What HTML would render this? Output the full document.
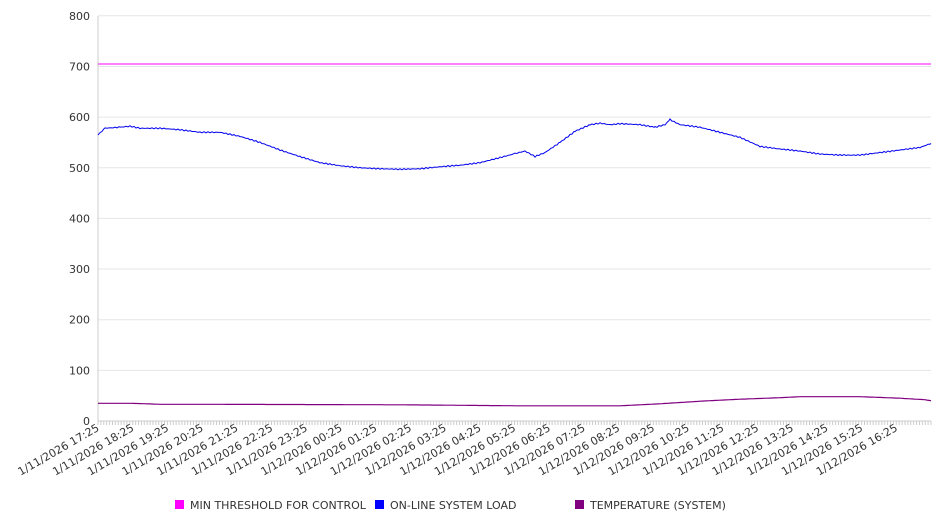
<!DOCTYPE html><html><head><style>body{margin:0;background:#fff}svg{display:block;font-family:"DejaVu Sans","Liberation Sans",sans-serif}</style></head><body>
<svg id="s" width="946" height="526" xmlns="http://www.w3.org/2000/svg">
<g id="grid"></g>
<polyline id="blue" fill="none" stroke="#0000ee" stroke-width="1"/>
<polyline id="temp" fill="none" stroke="#800080" stroke-width="1.2"/>
<line x1="98" y1="64" x2="931" y2="64" stroke="#ff00ff" stroke-width="1"/>
<g font-size="11" fill="#333">
<rect x="175" y="500" width="9" height="9" fill="#ff00ff"/><text x="190" y="509">MIN THRESHOLD FOR CONTROL</text>
<rect x="375" y="500" width="9" height="9" fill="#0000ff"/><text x="390" y="509">ON-LINE SYSTEM LOAD</text>
<rect x="575" y="500" width="9" height="9" fill="#800080"/><text x="590" y="509">TEMPERATURE (SYSTEM)</text>
</g>
</svg>
<script>
const NS="http://www.w3.org/2000/svg",g=document.getElementById('grid');
const Y=v=>421-v*0.5065;
function el(t,a,txt){const e=document.createElementNS(NS,t);for(const k in a)e.setAttribute(k,a[k]);if(txt)e.textContent=txt;g.appendChild(e);}
for(let v=0;v<=800;v+=100){const y=Y(v);if(v>0)el('line',{x1:98,x2:931,y1:y,y2:y,stroke:'#e6e6e6'});el('text',{x:90,y:y+4,'text-anchor':'end','font-size':11,fill:'#333'},String(v));}
el('line',{x1:98,x2:98,y1:16,y2:421,stroke:'#ccc'});
el('line',{x1:98,x2:931,y1:421,y2:421,stroke:'#ccc'});
const hw=833/24;
for(let i=0;i<=288;i++){const x=98+i*hw/12;el('line',{x1:x,x2:x,y1:421,y2:425,stroke:'#ccc'});}
const hrs=[];for(let i=0;i<24;i++){const h=(17+i)%24;const d=i<7?'1/11/2026':'1/12/2026';hrs.push(d+' '+String(h).padStart(2,'0')+':25');}
hrs.forEach((t,i)=>{const x=98+i*hw+2,y=430;el('text',{x:x,y:y,'text-anchor':'end','font-size':11,fill:'#333',transform:`rotate(-30 ${x} ${y})`},t);});
const B=[[98,565],[105,578],[120,580],[130,582],[140,578],[160,578],[180,575],[200,570],[220,570],[240,562],[260,550],[280,535],[300,522],[320,510],[340,504],[360,500],[380,498],[400,497],[420,498],[440,502],[460,505],[480,510],[500,520],[515,528],[525,533],[535,522],[545,530],[560,550],[575,572],[590,585],[600,588],[610,585],[620,587],[640,585],[655,580],[665,585],[670,595],[680,585],[700,580],[720,570],[740,560],[760,542],[780,537],[800,533],[820,527],[840,525],[860,525],[880,530],[900,535],[920,540],[931,548]];
const T=[[98,35],[130,35],[160,33],[200,33],[400,32],[520,30],[620,30],[660,34],[700,39],[740,43],[780,46],[800,48],[860,48],[900,45],[925,42],[931,40]];
function pts(A,jit){let o=[];for(let i=0;i<A.length-1;i++){const[a,b]=[A[i],A[i+1]];for(let x=a[0];x<b[0];x+=2){const v=a[1]+(b[1]-a[1])*(x-a[0])/(b[0]-a[0])+(jit?(Math.sin(x*1.7)*1.2):0);o.push(x+','+Y(v).toFixed(1));}}const l=A[A.length-1];o.push(l[0]+','+Y(l[1]));return o.join(' ');}
document.getElementById('blue').setAttribute('points',pts(B,true));
document.getElementById('temp').setAttribute('points',pts(T,false));
</script></body></html>
